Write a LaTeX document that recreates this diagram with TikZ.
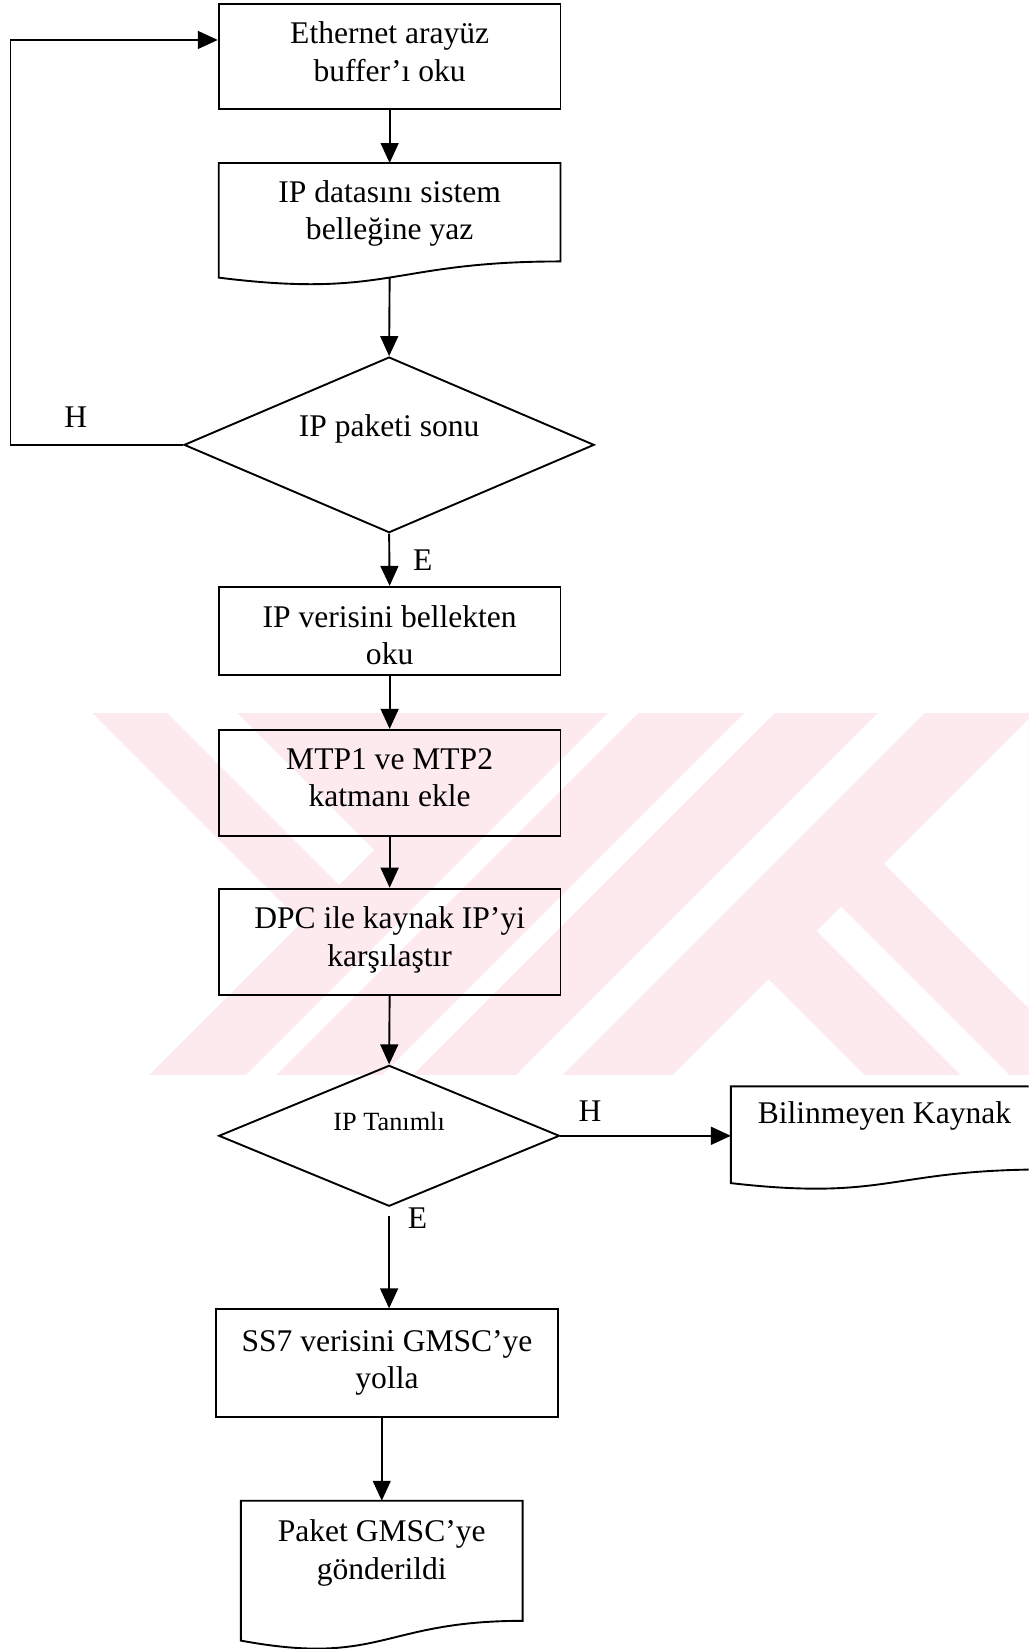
\documentclass[tikz,border=0pt]{standalone}
\usepackage{fontspec}
\setmainfont{Liberation Serif}
\usetikzlibrary{arrows.meta,shapes.geometric,calc}
\definecolor{wmpink}{RGB}{252,234,238}
\tikzset{
  ln/.style={line width=1.8pt, line join=miter},
  arr/.style={ln, -{Triangle[length=19pt,width=17pt]}},
  bodyfont/.style={font=\fontsize{30}{36}\selectfont},
  procbox/.style={draw, line width=1.8pt, minimum width=325pt, inner sep=0pt},
  docarea/.style={inner sep=0pt, outer sep=0pt, minimum width=#1},
  dec/.style={draw, shape=diamond, line width=1.8pt, inner sep=0pt},
  txt/.style={align=center, inner sep=0pt, bodyfont},
}
% outline of a flowchart "document" symbol around node #1
% (#2 = width, #3 = full height including the wavy bottom)
\newcommand\docoutline[3]{%
  \draw[ln] (#1.north west) -- (#1.north east)
    -- ([yshift=0.132*#3pt]#1.south east)
    .. controls ([xshift=-0.5*#2pt,yshift=0.132*#3pt]#1.south east)
           and ([xshift=0.5*#2pt,yshift=-0.174*#3pt]#1.south west)
    .. (#1.south west) -- cycle;}
\begin{document}
\begin{tikzpicture}[x=1pt,y=-1pt]
\useasboundingbox (0,0) rectangle (978,1568);
\clip (0,0) rectangle (978,1568);

% faint background emblem
\fill[wmpink] (0,678) rectangle (978,1022);
\fill[white] (0,678) -- (87.7,678) -- (286.9,877.2) -- (142,1022) -- (0,1022) -- cycle;
\fill[white] (159,678) -- (225.6,678) -- (355.8,808.2) -- (322.5,841.5) -- cycle;
\fill[white] (578.3,678) -- (606.8,678) -- (262.8,1022) -- (234.3,1022) -- cycle;
\fill[white] (708,678) -- (736.6,678) -- (392.6,1022) -- (364,1022) -- cycle;
\fill[white] (835,678) -- (879.2,678) -- (535.2,1022) -- (491,1022) -- cycle;
\fill[white] (840.9,821.2) -- (984,678) -- (990,678) -- (990,970.3) -- cycle;
\fill[white] (730.75,931.25) -- (640,1022) -- (821.5,1022) -- cycle;
\fill[white] (776.7,885.3) -- (799.65,862.35) -- (959.3,1022) -- (913.4,1022) -- cycle;

% process steps
\node[procbox, minimum height=100pt] (b1) at (370.5,54) {};
\node[txt] (b1t) at (370.5,49) {Ethernet arayüz\\buffer’ı oku};

\node[docarea=325pt, minimum height=109pt, anchor=north] (b2) at (370.5,155) {};
\docoutline{b2}{325}{116.7}
\node[txt] (b2t) at (370.5,203) {IP datasını sistem\\belleğine yaz};

\node[dec, minimum width=390pt, minimum height=167pt, aspect=2.335] (d1) at (370,423) {};
\node[txt] (d1t) at (370,408) {IP paketi sonu};

\node[procbox, minimum height=84pt] (b3) at (370.5,600) {};
\node[txt] (b3t) at (370.5,604) {IP verisini bellekten\\oku};
\node[procbox, minimum height=101pt] (b4) at (370.5,744.5) {};
\node[txt] (b4t) at (370.5,739.5) {MTP1 ve MTP2\\katmanı ekle};
\node[procbox, minimum height=101pt] (b5) at (370.5,895.5) {};
\node[txt] (b5t) at (370.5,893.5) {DPC ile kaynak IP’yi\\karşılaştır};

\node[dec, minimum width=324pt, minimum height=134pt, aspect=2.418] (d2) at (370,1080) {};
\node[txt, font=\fontsize{25}{30}\selectfont] (d2t) at (370,1066) {IP Tanımlı};

\node[docarea=300pt, minimum height=92pt, anchor=north west] (bil) at (695,1033) {};
\docoutline{bil}{300}{98.5}
\node[txt] (bilt) at (841,1061) {Bilinmeyen Kaynak};

\node[procbox, minimum width=326pt, minimum height=102pt] (b6) at (368,1296) {};
\node[txt] (b6t) at (368,1296) {SS7 verisini GMSC’ye\\yolla};

\node[docarea=268pt, minimum height=133pt, anchor=north] (b7) at (363,1427) {};
\docoutline{b7}{268}{142.4}
\node[txt] (b7t) at (363,1477) {Paket GMSC’ye\\gönderildi};

% connectors
\coordinate (loop) at (10,38);
\draw[arr] (b1.south) -- (b2.north);
\draw[arr] (b2.south) -- (d1.north);
\draw[arr] (d1.west) -| (loop) -- (loop -| b1.west);
\draw[arr] (d1.south) -- (b3.north);
\draw[arr] (b3.south) -- (b4.north);
\draw[arr] (b4.south) -- (b5.north);
\draw[arr] (b5.south) -- (d2.north);
\draw[arr] (d2.east) -- (d2.east -| bil.west);
\draw[arr, shorten <=8pt] (d2.south) -- (d2.south |- b6.north);
\draw[arr] (b6.south -| b7.north) -- (b7.north);

% branch labels
\node[txt] (lh1) at (72,397) {H};
\node[txt] (le1) at (402,533) {E};
\node[txt] (lh2) at (561,1057) {H};
\node[txt] (le2) at (397,1158) {E};
\end{tikzpicture}
\end{document}
